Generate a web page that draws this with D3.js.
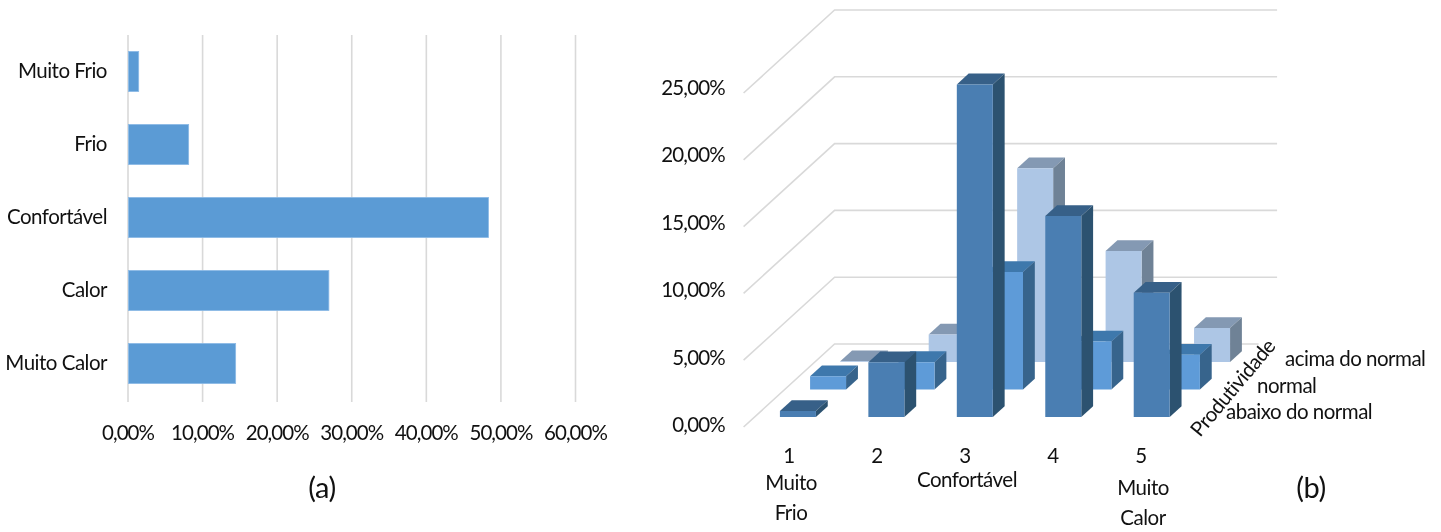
<!DOCTYPE html>
<html><head><meta charset="utf-8">
<script src="https://cdn.jsdelivr.net/npm/d3@7"></script>
<style>
html,body{margin:0;padding:0;background:#fff}
svg{display:block;filter:blur(0.45px)}
text{font-family:Lato,"Open Sans",sans-serif;fill:#111;letter-spacing:-0.5px}
</style></head><body>
<svg id="c" width="1441" height="532"></svg>
<script>
// Chart (a)
const sensation = ["Muito Frio","Frio","Confortável","Calor","Muito Calor"];
const sensationPct = [1.5,8.2,48.4,27.0,14.5];
const pctTicks = [0,10,20,30,40,50,60];
// Chart (b)
const scaleLevels = ["1","2","3","4","5"];
const scaleNames = [["Muito","Frio"],[],["Confortável"],[],["Muito","Calor"]];
const productivity = ["abaixo do normal","normal","acima do normal"];
const belowNormal = [0.45,4.1,24.9,15.05,9.3];
const normalProd = [1.0,2.05,8.8,3.6,2.6];
const aboveNormal = [0.05,2.05,14.5,8.3,2.55];
const wallTicks = [0,5,10,15,20,25];

const svg = d3.select("#c");
const fmt = v => v.toFixed(2).replace(".",",")+"%";
const GRID="#d9d9d9";
const FS=20.5;

/* ---------- (a) ---------- */
const xA = d3.scaleLinear().domain([0,60]).range([127.5,575]);
const yA = d3.scaleBand().domain(sensation).range([35,400]).paddingInner(0.45).paddingOuter(0.225);
const gA = svg.append("g");
gA.append("g").attr("transform","translate(0,402)")
  .call(d3.axisBottom(xA).tickValues(pctTicks).tickSize(-367).tickFormat(fmt).tickPadding(26))
  .call(g=>g.select(".domain").remove())
  .call(g=>g.selectAll("line").attr("stroke",GRID).attr("stroke-width",1.6))
  .call(g=>g.selectAll("text").attr("font-size",FS).attr("dy","0.6em").style("letter-spacing","-0.95px"));
gA.selectAll("rect.bar").data(sensation).join("rect").attr("class","bar")
  .attr("x",xA(0)+1).attr("y",d=>yA(d)).attr("height",yA.bandwidth())
  .attr("width",(d,i)=>xA(sensationPct[i])-xA(0)-1).attr("fill","#5b9bd5")
  .attr("stroke","#8dbbe6").attr("stroke-width",0.8);
gA.append("g").attr("transform","translate(107,0)")
  .call(d3.axisLeft(yA).tickSize(0).tickPadding(0))
  .call(g=>g.select(".domain").remove())
  .call(g=>g.selectAll("text").attr("font-size",FS).attr("text-anchor","end").attr("dy","0.3em"));
svg.append("text").attr("x",322).attr("y",498).attr("text-anchor","middle").attr("font-size",29).text("(a)");

/* ---------- (b) ---------- */
const FRONT_X=743.6, FRONT_Y=427, DEPTH_DX=91, DEPTH_DY=-83;
const yB = d3.scaleLinear().domain([0,25]).range([0,-334]);
const yLabel = d3.scaleLinear().domain([0,25]).range([425,88]);
const xB = d3.scaleBand().domain(scaleLevels).range([25.4,415.2]).paddingInner(0.593).paddingOuter(0);
const xLabel = d3.scalePoint().domain(scaleLevels).range([789,1141]);
const zB = d3.scalePoint().domain(productivity).range([0.12,0.783]);
const barDepth = 0.13;
const WALL_W = 442.5;
const FLOOR_W = 424;
const P = (u,v,d) => [FRONT_X+u+DEPTH_DX*d, FRONT_Y+yB(v)+DEPTH_DY*d];
const line = d3.line();
const poly = pts => line(pts)+"Z";

const gB = svg.append("g");
wallTicks.forEach(t=>{
  gB.append("path").attr("d",line([P(0,t,0),P(0,t,1),P(t===0?FLOOR_W:WALL_W,t,1)]))
    .attr("fill","none").attr("stroke",GRID).attr("stroke-width",1.6);
});
gB.append("g").attr("transform","translate(725,0)")
  .call(d3.axisLeft(yLabel).tickValues(wallTicks).tickSize(0).tickPadding(0).tickFormat(fmt))
  .call(g=>g.select(".domain").remove())
  .call(g=>g.selectAll("text").attr("font-size",FS).style("letter-spacing","-0.8px"));

const rows = [
  {name:productivity[2],vals:aboveNormal,front:"#adc6e5",side:"#6f8296",top:"#8499b3"},
  {name:productivity[1],vals:normalProd,front:"#5e9bd8",side:"#37648c",top:"#3e78ac"},
  {name:productivity[0],vals:belowNormal,front:"#4a7eb2",side:"#2c5270",top:"#376088"}
];
rows.forEach(r=>{
  const g=gB.append("g");
  const d0=zB(r.name), d1=d0+barDepth, w=xB.bandwidth();
  scaleLevels.forEach((c,i)=>{
    const u0=xB(c), u1=u0+w, v=r.vals[i];
    g.append("path").attr("fill",r.top).attr("d",poly([P(u0,v,d0),P(u1,v,d0),P(u1,v,d1),P(u0,v,d1)]));
    g.append("path").attr("fill",r.side).attr("d",poly([P(u1,0,d0),P(u1,v,d0),P(u1,v,d1),P(u1,0,d1)]));
    g.append("path").attr("fill",r.front).attr("d",poly([P(u0,0,d0),P(u1,0,d0),P(u1,v,d0),P(u0,v,d0)]));
  });
});
// category labels
const nameDy=[[483,513],[],[480],[],[488,518]];
const t=(x,y,s,a="middle",size=FS)=>gB.append("text").attr("x",x).attr("y",y).attr("text-anchor",a).attr("font-size",size).attr("dy","0.33em").text(s);
scaleLevels.forEach((c,i)=>{
  t(xLabel(c),456,c);
  scaleNames[i].forEach((s,j)=>t(xLabel(c)+2,nameDy[i][j],s));
});
// series labels
[[1226,412],[1257,386],[1285,359]].forEach((p,i)=>t(p[0],p[1],productivity[i],"start"));
gB.append("text").attr("transform","translate(1233,388) rotate(-50)").attr("text-anchor","middle")
  .attr("dy","0.33em").attr("font-size",FS).text("Produtividade");
svg.append("text").attr("x",1311).attr("y",498).attr("text-anchor","middle").attr("font-size",29).text("(b)");
</script></body></html>
